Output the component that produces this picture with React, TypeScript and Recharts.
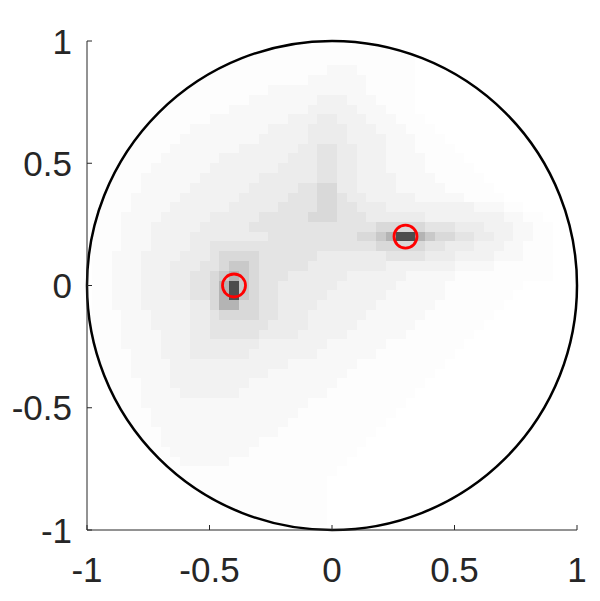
import React from 'react';
import { ScatterChart, Scatter, XAxis, YAxis, ReferenceArea } from 'recharts';

const ticks = [-1, -0.5, 0, 0.5, 1];
const tickLabels = ['-1', '-0.5', '0', '0.5', '1'];

// the two marked sources
const markers = [
  { x: -0.4, y: 0 },
  { x: 0.3, y: 0.2 },
];

// heat map, one row per y from 0.96 down to -0.96 (step 0.04),
// 49 cells per row from x=-0.96, written as "level:count" runs ('.' = empty)
const heatRows = [
  '1:33 .:16',
  '1:33 .:16',
  '1:24 2:3 1:6 .:16',
  '1:22 2:6 1:5 .:16',
  '1:18 2:10 1:5 .:16',
  '1:16 2:7 3:3 2:3 1:4 .:16',
  '1:14 2:8 3:5 2:3 1:3 .:16',
  '1:12 2:8 3:3 4:2 3:3 2:3 1:3 .:15',
  '1:10 2:8 3:4 4:4 3:3 2:3 1:3 .:14',
  '1:9 2:8 3:5 4:4 3:4 2:3 1:3 .:13',
  '1:8 2:7 3:6 4:2 5:2 4:2 3:3 2:3 1:4 .:12',
  '1:7 2:6 3:7 4:3 5:2 4:2 3:3 2:4 1:4 .:11',
  '1:6 2:6 3:7 4:4 5:2 4:2 3:3 2:4 1:5 .:10',
  '1:5 2:6 3:6 4:6 5:2 4:2 3:4 2:4 1:5 .:9',
  '1:5 2:5 3:6 4:5 5:2 6:2 4:2 3:4 2:5 1:5 .:8',
  '1:4 2:5 3:6 4:5 5:3 6:2 5:1 4:2 3:5 2:5 1:4 .:7',
  '1:4 2:4 3:6 4:5 5:4 6:2 5:2 4:3 3:9 2:3 1:2 .:5',
  '1:3 2:4 3:5 4:5 5:5 6:3 5:3 4:6 3:8 2:2 1:2 .:3',
  '1:3 2:3 3:5 4:5 5:13 6:5 5:3 4:3 3:3 2:2 1:2 .:2',
  '1:3 2:3 3:4 4:8 5:9 6:2 7:1 8:1 #:2 8:1 7:1 6:2 5:2 4:2 3:2 2:2 1:2 .:2',
  '1:3 2:3 3:4 4:2 5:17 6:5 5:2 4:3 3:3 2:2 1:3 .:2',
  '1:2 2:3 3:4 4:3 5:1 6:4 5:6 4:7 5:4 4:3 3:4 2:3 1:3 .:2',
  '1:2 2:3 3:3 4:3 5:2 6:1 7:2 6:1 5:5 4:8 3:7 2:4 1:6 .:2',
  '1:2 2:3 3:3 4:2 5:2 6:1 7:1 8:1 7:1 6:1 5:3 4:6 3:6 2:5 1:10 .:2',
  '1:2 2:3 3:3 4:2 5:2 6:1 8:1 #:1 7:1 6:1 5:2 4:6 3:6 2:5 1:8 .:5',
  '1:2 2:3 3:3 4:2 5:2 6:1 8:1 #:1 7:1 6:1 5:2 4:5 3:6 2:6 1:7 .:6',
  '1:2 2:3 3:5 4:2 6:1 8:2 6:2 5:2 4:4 3:6 2:6 1:7 .:7',
  '1:3 2:3 3:4 4:2 5:1 6:4 5:2 4:3 3:6 2:6 1:7 .:8',
  '1:3 2:3 3:4 4:2 5:6 4:4 3:5 2:6 1:7 .:9',
  '1:3 2:4 3:3 4:2 5:5 4:4 3:5 2:6 1:7 .:10',
  '1:3 2:4 3:3 4:7 3:7 2:6 1:8 .:11',
  '1:4 2:3 3:3 4:6 3:7 2:6 1:8 .:12',
  '1:4 2:4 3:12 2:7 1:9 .:13',
  '1:4 2:4 3:10 2:8 1:9 .:14',
  '1:5 2:3 3:8 2:9 1:9 .:15',
  '1:5 2:4 3:6 2:9 1:9 .:16',
  '1:5 2:17 1:10 .:17',
  '1:6 2:15 1:10 .:18',
  '1:6 2:14 1:10 .:19',
  '1:7 2:12 1:10 .:20',
  '1:7 2:10 1:11 .:21',
  '1:8 2:8 1:11 .:22',
  '1:9 2:5 1:12 .:23',
  '1:25 .:24',
  '1:24 .:25',
  '1:24 .:25',
  '1:24 .:25',
  '1:24 .:25',
  '1:24 .:25',
];

const shades: Record<string, string> = {
  '1': '#fdfdfd',
  '2': '#f8f8f8',
  '3': '#f2f2f2',
  '4': '#ececec',
  '5': '#e4e4e4',
  '6': '#d9d9d9',
  '7': '#c9c9c9',
  '8': '#b4b4b4',
  '#': '#4d4d4d',
};

const STEP = 0.04;
const X0 = -0.96;
const Y0 = 0.96;

type Cell = { x1: number; x2: number; y1: number; y2: number; fill: string };

const cells: Cell[] = [];
heatRows.forEach((row, r) => {
  const yc = Y0 - STEP * r;
  let k = 0;
  row.split(' ').forEach((run) => {
    const [lv, n] = run.split(':');
    const cnt = Number(n);
    if (lv !== '.') {
      cells.push({
        x1: X0 + STEP * k - STEP / 2,
        x2: X0 + STEP * (k + cnt - 1) + STEP / 2,
        y1: yc - STEP / 2,
        y2: yc + STEP / 2,
        fill: shades[lv],
      });
    }
    k += cnt;
  });
});

const FONT = '"Liberation Sans", Arial, Helvetica, sans-serif';
const AXIS = '#262626';

const CellRect = (p: any) => (
  <rect x={p.x} y={p.y} width={p.width} height={p.height} fill={p.fill} shapeRendering="crispEdges" />
);

// white outside the unit circle, then the circle outline
const UnitCircle = (p: any) => {
  const { x, y, width, height } = p;
  const cx = x + width / 2;
  const cy = y + height / 2;
  const rx = width / 2;
  const ry = height / 2;
  const d =
    `M${x + 2},${y + 2}h${width - 4}v${height - 4}h${-(width - 4)}Z ` +
    `M${cx - rx},${cy} a${rx},${ry} 0 1,0 ${2 * rx},0 a${rx},${ry} 0 1,0 ${-2 * rx},0 Z`;
  return (
    <g>
      <path d={d} fill="#ffffff" fillRule="evenodd" />
      <ellipse cx={cx} cy={cy} rx={rx} ry={ry} fill="none" stroke="#000000" strokeWidth={2.5} />
    </g>
  );
};

const XTick = (p: any) => {
  const { x, y, payload, index } = p;
  return (
    <g>
      <line x1={x} x2={x} y1={y} y2={y - 5} stroke={AXIS} strokeWidth={1} />
      <text x={x} y={y + 52} textAnchor="middle" fontSize={35} fill={AXIS} fontFamily={FONT}>
        {tickLabels[index] ?? String(payload.value)}
      </text>
    </g>
  );
};

const YTick = (p: any) => {
  const { x, y, payload, index } = p;
  return (
    <g>
      <line x1={x} x2={x + 5} y1={y} y2={y} stroke={AXIS} strokeWidth={1} />
      <text x={x - 15} y={y + 12.5} textAnchor="end" fontSize={35} fill={AXIS} fontFamily={FONT}>
        {tickLabels[index] ?? String(payload.value)}
      </text>
    </g>
  );
};

const Marker = (p: any) => (
  <circle cx={p.cx} cy={p.cy} r={11.5} fill="none" stroke="#ff0000" strokeWidth={2.8} />
);

export default function App() {
  return (
    <div style={{ position: 'absolute', left: 0, top: 0, width: 600, height: 601, background: '#fff' }}>
      <ScatterChart width={600} height={601} margin={{ top: 41, right: 23, bottom: 11, left: 0 }}>
        <XAxis
          type="number"
          dataKey="x"
          domain={[-1, 1]}
          ticks={ticks}
          allowDataOverflow
          height={60}
          tickSize={0}
          tickMargin={0}
          tickLine={false}
          axisLine={{ stroke: AXIS, strokeWidth: 1 }}
          tick={<XTick />}
        />
        <YAxis
          type="number"
          dataKey="y"
          domain={[-1, 1]}
          ticks={ticks}
          allowDataOverflow
          width={87}
          tickSize={0}
          tickMargin={0}
          tickLine={false}
          axisLine={{ stroke: AXIS, strokeWidth: 1 }}
          tick={<YTick />}
        />
        {cells.map((c, i) => (
          <ReferenceArea
            key={i}
            x1={c.x1}
            x2={c.x2}
            y1={c.y1}
            y2={c.y2}
            fill={c.fill}
            fillOpacity={1}
            stroke="none"
            ifOverflow="visible"
            shape={<CellRect />}
          />
        ))}
        <ReferenceArea x1={-1} x2={1} y1={-1} y2={1} ifOverflow="visible" shape={<UnitCircle />} />
        <Scatter data={markers} isAnimationActive={false} shape={<Marker />} />
      </ScatterChart>
    </div>
  );
}
